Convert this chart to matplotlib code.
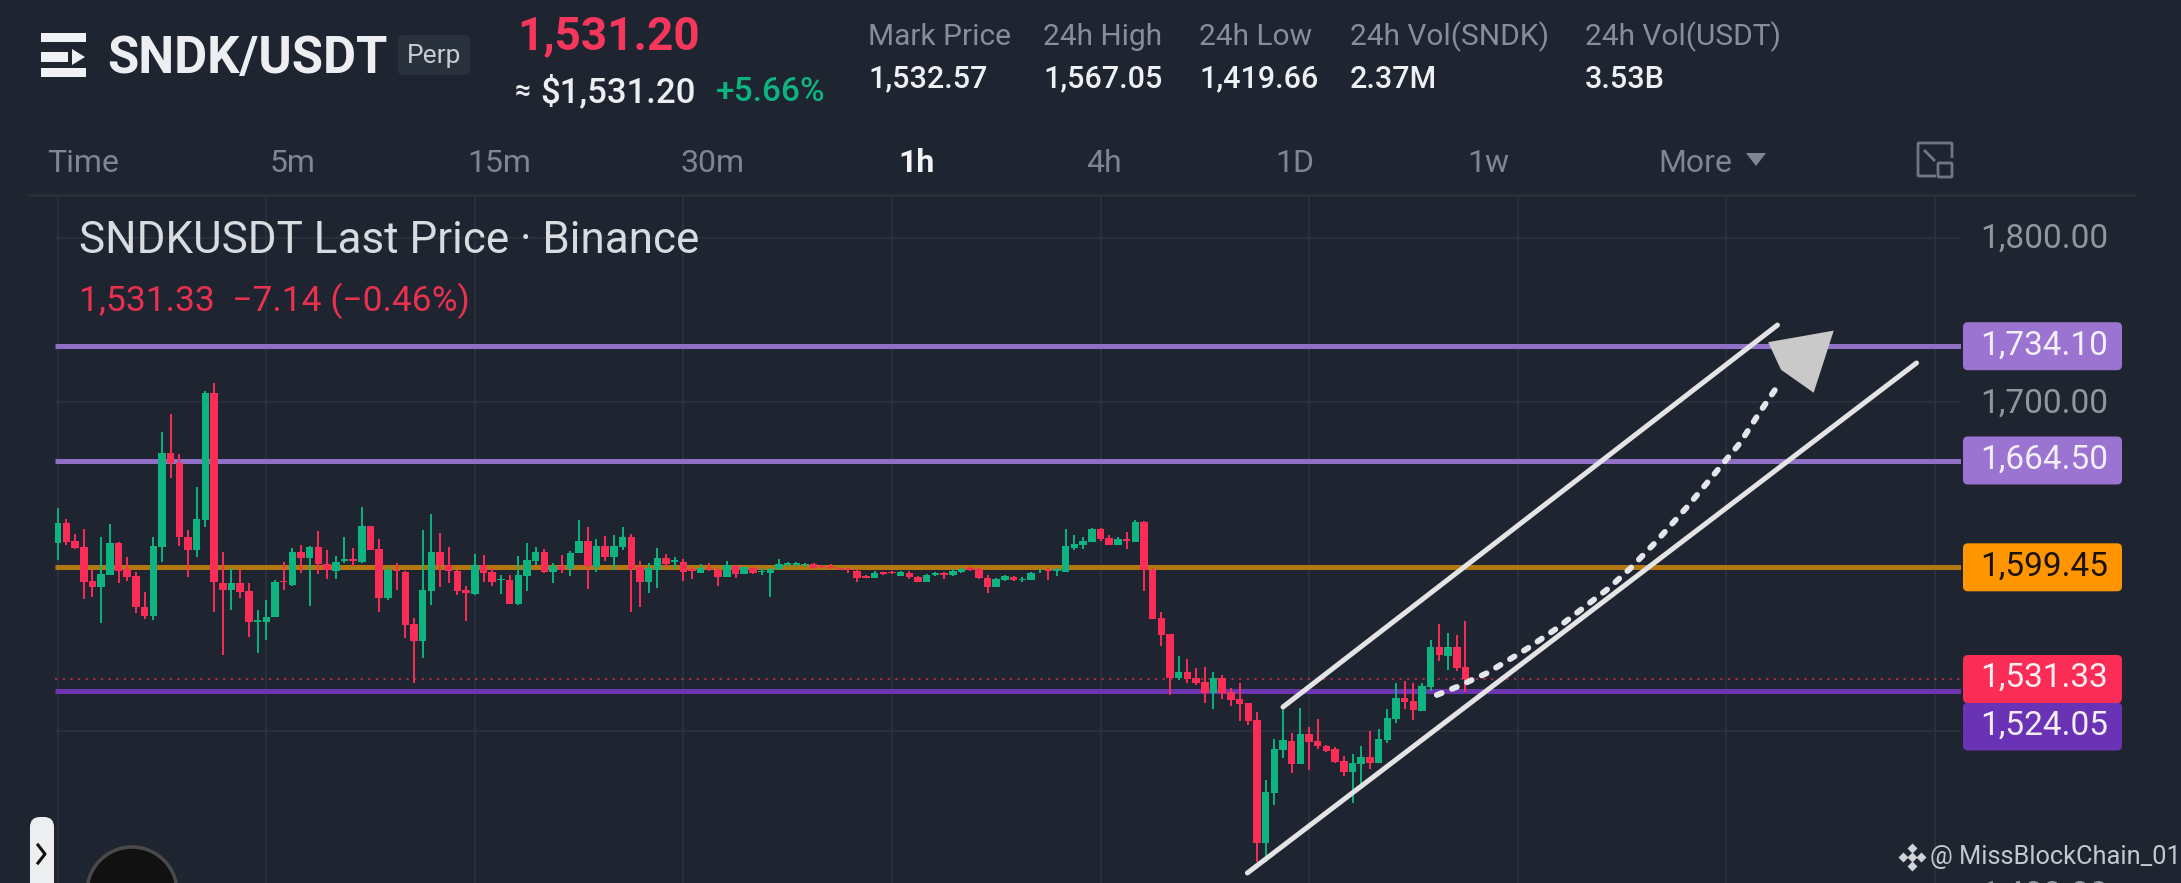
import numpy as np
import matplotlib
matplotlib.use("Agg")
import matplotlib.pyplot as plt
from matplotlib.patches import FancyBboxPatch, Polygon, Circle, Rectangle

plt.rcParams['font.family'] = ['Roboto', 'DejaVu Sans']

W, H = 2181, 883
BG = "#1e2530"
GRID = "#2b323d"
UP = "#0db47f"
DOWN = "#fb2d57"

# 1h candles
opens = [1614.4,1626.2,1615.7,1611.6,1590.9,1587.2,1595.0,1614.4,1598.4,1594.1,
         1575.5,1569.8,1612.0,1668.8,1662.8,1617.7,1610.0,1628.3,1705.4,1589.7,
         1585.6,1589.7,1584.8,1566.3,1566.1,1569.2,1591.3,1588.5,1608.8,1605.1,
         1611.6,1601.5,1597.4,1603.5,1604.3,1602.9,1624.6,1610.4,1580.7,1597.8,
         1596.6,1564.9,1554.8,1585.2,1608.8,1601.0,1597.0,1585.6,1583.2,1601.0,
         1596.8,1591.7,1591.7,1577.1,1594.1,1603.3,1608.9,1596.8,1600.4,1598.2,
         1607.9,1615.4,1599.8,1612.4,1605.5,1612.0,1617.7,1599.8,1590.7,1597.8,
         1604.9,1602.8,1602.8,1598.6,1596.1,1599.2,1597.8,1593.5,1600.4,1595.3,
         1599.2,1596.6,1596.1,1598.2,1601.0,1601.0,1601.0,1601.2,1600.2,1599.8,
         1598.8,1598.2,1597.4,1593.9,1592.9,1596.3,1596.6,1594.1,1596.1,1593.7,
         1590.5,1594.9,1595.7,1594.5,1596.8,1599.0,1598.2,1592.9,1587.4,1591.7,
         1593.7,1591.9,1591.7,1597.0,1598.0,1597.2,1596.8,1611.4,1613.0,1614.8,
         1622.7,1617.1,1613.2,1616.6,1614.8,1627.0,1597.8,1568.3,1558.6,1532.2,
         1535.7,1532.2,1529.6,1523.1,1531.8,1523.5,1519.2,1516.6,1506.4,1431.3,
         1461.8,1488.2,1493.8,1479.6,1497.9,1493.4,1490.6,1489.0,1481.2,1474.8,
         1479.6,1483.7,1480.0,1494.2,1507.2,1519.6,1517.8,1512.1,1526.7,1550.7,
         1545.4,1550.7,1538.5]
closes = [1626.2,1614.9,1611.0,1590.7,1587.2,1595.4,1614.4,1597.4,1593.3,1575.5,
          1569.8,1612.4,1668.8,1662.8,1617.7,1610.0,1628.9,1705.8,1590.3,1585.6,
          1589.7,1584.6,1566.3,1567.3,1569.2,1590.5,1590.5,1608.8,1605.1,1611.6,
          1601.5,1597.8,1602.9,1604.3,1603.5,1624.6,1610.0,1580.7,1597.8,1597.0,
          1564.3,1554.8,1585.6,1608.8,1601.0,1597.0,1585.2,1583.6,1601.0,1596.2,
          1590.7,1592.3,1577.1,1594.7,1603.9,1608.9,1596.8,1600.4,1597.8,1608.3,
          1615.4,1600.2,1612.4,1605.5,1612.4,1617.7,1598.2,1590.7,1599.0,1604.9,
          1601.4,1603.9,1596.8,1597.0,1598.8,1598.2,1593.3,1600.6,1595.3,1599.4,
          1595.7,1597.2,1598.6,1601.4,1601.8,1601.8,1601.6,1598.8,1599.4,1599.0,
          1598.2,1597.6,1592.9,1593.1,1595.7,1595.5,1596.0,1596.6,1593.3,1590.5,
          1594.5,1595.7,1594.9,1597.2,1598.6,1597.8,1592.9,1587.2,1592.1,1594.1,
          1591.7,1592.5,1596.1,1597.4,1597.2,1598.2,1612.4,1613.4,1615.6,1622.9,
          1616.4,1613.2,1616.4,1615.2,1627.0,1597.8,1567.7,1558.4,1531.8,1535.7,
          1531.6,1529.2,1523.1,1531.8,1523.1,1518.6,1516.2,1506.0,1431.3,1462.6,
          1488.8,1494.2,1479.6,1497.9,1493.0,1490.6,1487.7,1480.8,1474.8,1480.0,
          1483.7,1480.0,1494.6,1507.4,1519.6,1517.4,1512.5,1527.1,1551.1,1545.8,
          1550.7,1537.9,1531.3]
highs = [1635.8,1628.9,1619.7,1622.6,1597.8,1618.1,1625.8,1614.9,1605.9,1596.8,
         1584.4,1618.1,1681.8,1692.8,1668.4,1622.2,1648.5,1707.0,1711.9,1608.6,
         1598.8,1597.8,1589.7,1573.4,1579.5,1591.7,1602.9,1611.0,1613.0,1612.4,
         1621.8,1610.0,1606.3,1617.7,1611.2,1636.4,1624.6,1616.5,1599.4,1602.3,
         1597.0,1568.4,1622.2,1631.9,1620.5,1612.0,1597.8,1588.1,1607.5,1606.7,
         1598.8,1594.7,1594.7,1606.3,1614.0,1611.6,1610.4,1601.8,1606.9,1609.3,
         1628.2,1623.8,1616.4,1618.5,1619.1,1623.8,1619.7,1603.3,1601.8,1611.0,
         1607.3,1605.5,1604.3,1599.8,1601.2,1601.8,1598.8,1603.5,1600.6,1599.8,
         1599.4,1598.8,1599.2,1604.3,1602.6,1602.8,1602.2,1602.2,1600.6,1601.2,
         1599.2,1598.8,1598.2,1594.7,1597.0,1596.8,1597.2,1597.4,1597.4,1594.1,
         1595.3,1596.6,1596.8,1598.2,1599.2,1600.2,1598.8,1594.7,1592.7,1594.7,
         1594.1,1593.3,1596.8,1598.2,1598.8,1599.2,1622.5,1619.1,1618.1,1623.3,
         1623.3,1619.1,1617.7,1620.7,1628.2,1627.6,1598.8,1572.2,1558.6,1545.4,
         1543.8,1537.9,1538.9,1535.7,1533.8,1525.7,1529.2,1516.6,1511.3,1469.9,
         1494.6,1515.6,1498.3,1513.5,1502.0,1507.0,1491.2,1489.8,1484.5,1485.7,
         1490.6,1499.9,1500.7,1512.9,1528.8,1530.2,1529.2,1528.8,1555.1,1564.9,
         1559.2,1558.2,1566.7]
lows = [1603.9,1613.0,1610.4,1580.1,1581.6,1565.7,1595.0,1590.1,1591.3,1571.8,
        1567.8,1567.3,1602.9,1653.6,1612.4,1593.3,1605.9,1624.2,1572.4,1546.0,
        1573.4,1580.5,1557.2,1547.0,1555.2,1569.2,1585.6,1588.1,1595.8,1575.9,
        1595.4,1592.1,1592.1,1601.9,1600.2,1602.3,1610.0,1572.2,1579.5,1585.6,
        1556.2,1528.8,1544.0,1576.5,1587.2,1589.7,1582.6,1566.9,1582.6,1590.7,
        1588.0,1583.2,1577.1,1576.5,1585.2,1600.8,1596.1,1589.7,1596.1,1594.1,
        1607.9,1586.0,1596.8,1603.3,1597.8,1609.9,1572.0,1575.0,1583.6,1587.0,
        1599.8,1598.2,1591.3,1592.1,1596.1,1597.4,1588.0,1593.5,1592.7,1595.3,
        1595.3,1594.9,1581.1,1597.8,1599.8,1599.4,1599.8,1598.4,1598.8,1598.2,
        1597.8,1595.7,1590.5,1592.7,1592.9,1594.9,1595.5,1594.1,1592.5,1590.3,
        1590.3,1594.1,1592.1,1594.1,1596.0,1597.4,1592.5,1583.6,1587.4,1591.3,
        1591.1,1590.3,1591.7,1596.1,1591.5,1594.1,1596.8,1609.9,1610.4,1614.6,
        1615.6,1612.8,1612.8,1610.4,1614.8,1585.2,1567.7,1551.5,1521.6,1530.8,
        1528.8,1527.7,1516.6,1512.9,1519.0,1515.0,1506.0,1503.4,1420.1,1420.1,
        1454.6,1483.1,1474.0,1479.6,1476.0,1488.6,1487.1,1480.0,1472.3,1456.1,
        1467.4,1476.8,1480.0,1492.6,1504.4,1512.9,1506.4,1512.1,1524.3,1542.6,
        1536.9,1536.5,1523.7]

# horizontal levels and their tags
level_prices = [1734.10, 1664.50, 1599.45, 1524.05]
level_colors = ["#9070c6", "#9070c6", "#b4770f", "#6c36b0"]
tag_colors = ["#9b74d2", "#9b74d2", "#ff9500", "#6a33b5"]
tag_text_colors = ["#f4eefa", "#f4eefa", "#1a1208", "#f4eefa"]
last_price = 1531.33
grid_prices = [1800, 1700, 1600, 1500]
axis_prices = [1800, 1700, 1400]

# hand drawn channel and projected path
upper_x, upper_y = [141.0, 197.9], [1514.4, 1747.0]
lower_x, lower_y = [136.9, 213.9], [1413.3, 1723.9]
path_x = [158.7,161.0,164.5,167.7,169.2,172.4,175.4,178.5,181.0,183.9,187.6,191.5,193.6,195.8,198.0]
path_y = [1521.7,1526.6,1535.1,1545.4,1550.3,1561.9,1574.1,1586.8,1599.0,1614.9,1636.8,1661.8,1675.2,1693.4,1710.5]
head_x = [204.2, 197.0, 198.4, 202.0]
head_y = [1742.8, 1736.1, 1720.2, 1706.8]

# header texts
stat_names = ["Mark Price", "24h High", "24h Low", "24h Vol(SNDK)", "24h Vol(USDT)"]
stat_values = ["1,532.57", "1,567.05", "1,419.66", "2.37M", "3.53B"]
stat_x = [868, 1043, 1199, 1350, 1585]
tab_names = ["Time", "5m", "15m", "30m", "1h", "4h", "1D", "1w", "More"]
tab_x = [47, 270, 467, 681, 898, 1086, 1275, 1467, 1658]

fig = plt.figure(figsize=(W / 100, H / 100), dpi=100, facecolor=BG)

# page furniture, in pixels
ui = fig.add_axes([0, 0, 1, 1], zorder=3)
ui.set_xlim(0, W)
ui.set_ylim(H, 0)
ui.axis("off")


def label(x, y, s, color, size, weight="normal", ha="left"):
    ui.text(x, y, s, color=color, fontsize=size, fontweight=weight, ha=ha, va="center")


def box(x0, y0, x1, y1, color, r=5):
    ui.add_patch(FancyBboxPatch((x0 + r, y0 + r), x1 - x0 - 2 * r, y1 - y0 - 2 * r,
                                boxstyle="round,pad=%d" % r, fc=color, ec="none"))


# menu icon
for y0, y1, x1 in [(33, 42, 86), (52, 62, 68), (68, 77, 86)]:
    ui.add_patch(Rectangle((41, y0), x1 - 41, y1 - y0, fc="#f0f1f4", ec="none"))
ui.add_patch(Polygon([(72, 49), (85, 57), (72, 65)], fc="#f0f1f4", ec="none"))

label(107, 59, "SNDK/USDT", "#eceef2", 36.5, "bold")
box(398, 35, 470, 75, "#29313c")
label(434, 56, "Perp", "#c8ccd2", 19, ha="center")
label(517, 36, "1,531.20", "#f6365c", 33, "bold")
label(515, 92, "≈", "#e8eaee", 20, "bold")
label(540, 92, "$1,531.20", "#eceef2", 25, "medium")
label(716, 92, "+5.66%", "#0db47f", 24, "medium")

for x, name, value in zip(stat_x, stat_names, stat_values):
    label(x, 37, name, "#868e9b", 21.5)
    label(x, 79, value, "#eef0f3", 22, "medium")

for x, name in zip(tab_x, tab_names):
    if name == "1h":
        label(x, 163, name, "#f2f3f5", 23, "bold")
    else:
        label(x, 163, name, "#7e8693", 23)
ui.add_patch(Polygon([(1746, 153), (1766, 153), (1756, 166)], fc="#7e8693", ec="none"))

# fullscreen icon
ui.add_patch(FancyBboxPatch((1919, 144), 32, 31, boxstyle="round,pad=1", fc="none", ec="#6f7784", lw=2))
ui.add_patch(Rectangle((1936, 158), 18, 20, fc=BG, ec="none"))
ui.add_patch(FancyBboxPatch((1939, 164), 12, 12, boxstyle="round,pad=1", fc="none", ec="#6f7784", lw=2))
ui.plot([1925, 1934], [151, 160], color="#6f7784", lw=2)

ui.plot([28, 2134], [195, 195], color="#283039", lw=2)

label(79, 241, "SNDKUSDT Last Price · Binance", "#d8dbdf", 31.7)
label(79, 301, "1,531.33  −7.14 (−0.46%)", "#e8304f", 25.5)

# chart
ax = fig.add_axes([55 / W, 0, (1961 - 55) / W, 1 - 195 / H], zorder=2)
ax.patch.set_alpha(0)
ax.set_xlim(-0.31, 219.02)
ax.set_ylim(1407.2, 1826.2)
for s in ax.spines.values():
    s.set_visible(False)
ax.set_xticks([])
ax.set_yticks([])

ax.hlines(grid_prices, -0.31, 219.02, color=GRID, lw=1.3, zorder=1)
ax.vlines(np.arange(0, 219, 24), 1407.2, 1826.2, color=GRID, lw=1.3, zorder=1)

ax.hlines(level_prices, -0.31, 219.02, colors=level_colors, lw=3.6, zorder=2)
ax.hlines(last_price, -0.31, 219.02, color=DOWN, lw=1.1, linestyles=(0, (1.5, 3.5)), alpha=0.8, zorder=2)

idx = np.arange(len(opens))
o = np.array(opens)
c = np.array(closes)
cols = np.where(c >= o, UP, DOWN)
ax.vlines(idx, lows, highs, colors=cols, lw=1.4, zorder=3)
ax.bar(idx, np.abs(c - o), bottom=np.minimum(o, c), width=0.86, color=cols, linewidth=0, zorder=4)

ax.plot(upper_x, upper_y, color="#e4e4e4", lw=3.6, solid_capstyle="round", zorder=5)
ax.plot(lower_x, lower_y, color="#e4e4e4", lw=3.6, solid_capstyle="round", zorder=5)
ax.plot(path_x, path_y, color="#e4e6ea", lw=4.2, linestyle=(0, (0.9, 1.9)), dash_capstyle="round", zorder=5)
ax.add_patch(Polygon(np.column_stack([head_x, head_y]), fc="#c9c9c9", ec="#c9c9c9", lw=1.5, zorder=6))

# price tags on the right
py = lambda p: 238 + (1800 - p) * 1.642
for p, col, tc in zip(level_prices, tag_colors, tag_text_colors):
    y = py(p) if p != 1524.05 else 726.5
    box(1963, y - 24, 2122, y + 24, col)
    label(2108, y - 1, "{:,.2f}".format(p), tc, 24, ha="right")
box(1963, 655, 2122, 703, "#fb2d57")
label(2108, 678, "{:,.2f}".format(last_price), "#fdeef1", 24, ha="right")
for p in axis_prices:
    label(2108, py(p) + 1, "{:,.2f}".format(p), "#8f96a0", 24, ha="right")

# watermark
for dx, dy in [(0, -9), (-9, 0), (9, 0), (0, 9), (0, 0)]:
    ui.plot(1912 + dx, 857 + dy, marker="D", ms=5.5, color="#d0d3d8", mec="none")
label(1930, 857, "@ MissBlockChain_01", "#c4c8ce", 18.3)

# side handle and logo
box(30, 817, 54, 900, "#eceef0", r=10)
ui.plot([38, 45, 38], [845, 854, 863], color="#111111", lw=2.2)
ui.add_patch(Circle((132, 892), 45, fc="#111111", ec="#4a4a4a", lw=2.5))
ui.text(132, 902, "TV", color="#ffffff", fontsize=27, fontweight="bold", ha="center", va="center")

fig.savefig("out.png", dpi=100, facecolor=BG)
